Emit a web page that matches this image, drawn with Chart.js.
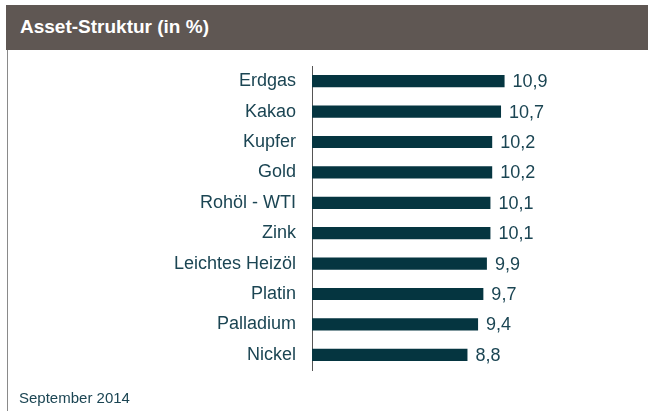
<!DOCTYPE html>
<html lang="de">
<head>
  <meta charset="UTF-8" />
  <title>Asset-Struktur (in %)</title>
  <style>
    body {
      margin: 0;
      width: 648px;
      height: 411px;
      background: #fff;
      font-family: "Liberation Sans", Arial, sans-serif;
      position: relative;
      overflow: hidden;
    }

    .header {
      position: absolute;
      left: 6px;
      top: 5px;
      width: 642px;
      height: 45px;
      background: #5f5753;
      color: #fff;
      font-weight: bold;
      font-size: 19px;
      line-height: 43px;
      padding-left: 14px;
      box-sizing: border-box;
    }

    .frame {
      position: absolute;
      left: 7px;
      top: 50px;
      width: 1px;
      height: 361px;
      background: #8a8a8a;
    }

    .footer {
      position: absolute;
      left: 19px;
      top: 389px;
      font-size: 15px;
      color: #1b4553;
    }

    #chart {
      position: absolute;
      left: 0;
      top: 0;
    }
  </style>
</head>
<body>
  <div class="header">Asset-Struktur (in %)</div>
  <div class="frame"></div>
  <canvas id="chart" width="648" height="411"></canvas>
  <div class="footer">September 2014</div>

  <script src="https://cdn.jsdelivr.net/npm/chart.js"></script>
  <script>
    const assets = ["Erdgas", "Kakao", "Kupfer", "Gold", "Rohöl - WTI", "Zink", "Leichtes Heizöl", "Platin", "Palladium", "Nickel"];
    const shares = [10.9, 10.7, 10.2, 10.2, 10.1, 10.1, 9.9, 9.7, 9.4, 8.8];

    const textColor = "#1b4553";
    const barColor = "#053540";
    const fontFamily = '"Liberation Sans", Arial, sans-serif';

    // value labels to the right of each bar, German decimal comma
    const valueLabels = {
      id: "valueLabels",
      afterDatasetsDraw(chart) {
        const ctx = chart.ctx;
        const meta = chart.getDatasetMeta(0);
        ctx.save();
        ctx.font = "18px " + fontFamily;
        ctx.fillStyle = textColor;
        ctx.textAlign = "left";
        ctx.textBaseline = "middle";
        meta.data.forEach((bar, i) => {
          ctx.fillText(shares[i].toFixed(1).replace(".", ","), bar.x + 8, bar.y + 1);
        });
        ctx.restore();
      }
    };

    new Chart(document.getElementById("chart").getContext("2d"), {
      type: "bar",
      data: {
        labels: assets,
        datasets: [{
          data: shares,
          backgroundColor: barColor,
          barPercentage: 0.4,
          categoryPercentage: 1
        }]
      },
      options: {
        indexAxis: "y",
        responsive: false,
        animation: false,
        layout: { padding: { top: 66, bottom: 41, right: 18, left: 0 } },
        plugins: {
          legend: { display: false },
          tooltip: { enabled: false }
        },
        scales: {
          x: { display: false, min: 0, max: 18 },
          y: {
            afterFit: scale => { scale.width = 312; },
            grid: { display: false, drawTicks: false },
            border: { display: true, color: "#555", width: 1 },
            ticks: {
              color: textColor,
              padding: 16,
              font: { family: fontFamily, size: 18 }
            }
          }
        }
      },
      plugins: [valueLabels]
    });
  </script>
</body>
</html>
